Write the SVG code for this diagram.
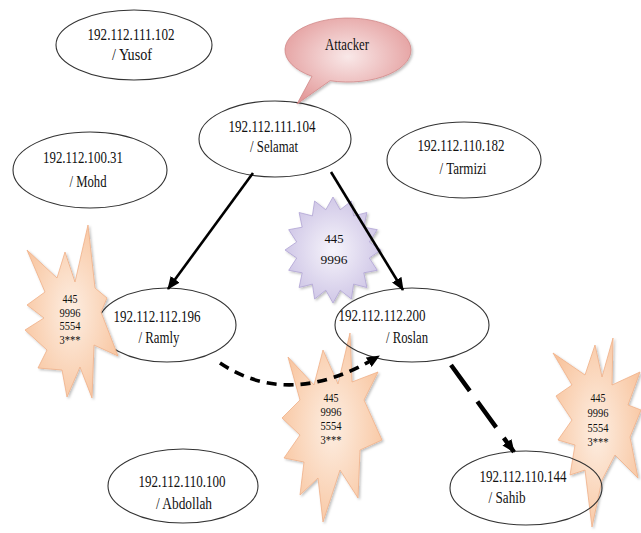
<svg xmlns="http://www.w3.org/2000/svg" width="641" height="533" viewBox="0 0 641 533">
<style>
.node ellipse{fill:none;stroke:#333;stroke-width:1.1}
.t{font-family:"Liberation Serif","DejaVu Serif",serif;font-size:16px;fill:#111;text-anchor:middle}
.b{font-family:"Liberation Serif","DejaVu Serif",serif;font-size:12px;fill:#111;text-anchor:middle}
.orange{fill:url(#og);stroke:#f0b088;stroke-width:0.8;filter:url(#sh)}
.conn{fill:none;stroke:#000}
</style>
<defs>
<radialGradient id="og" cx="50%" cy="50%" r="60%">
<stop offset="0" stop-color="#fdeee2"/>
<stop offset="1" stop-color="#f8c39c"/>
</radialGradient>
<radialGradient id="pg" cx="50%" cy="50%" r="60%">
<stop offset="0" stop-color="#f6f4fb"/>
<stop offset="1" stop-color="#c9bfe3"/>
</radialGradient>
<radialGradient id="rg" cx="50%" cy="45%" r="60%">
<stop offset="0" stop-color="#f9e8e8"/>
<stop offset="1" stop-color="#e39a9a"/>
</radialGradient>
<filter id="sh" x="-20%" y="-20%" width="140%" height="140%">
<feDropShadow dx="1.5" dy="1.5" stdDeviation="1.2" flood-color="#000" flood-opacity="0.25"/>
</filter>
<marker id="ah" markerUnits="userSpaceOnUse" markerWidth="13" markerHeight="11" refX="12" refY="5.5" orient="auto">
<path d="M0,0 L13,5.5 L0,11 z" fill="#000"/>
</marker>
</defs>
<rect width="641" height="533" fill="#fff"/>

<g id="node-yusof" class="node">
<ellipse cx="134" cy="45" rx="78" ry="35"/>
<text class="t" x="131" y="40" textLength="87" lengthAdjust="spacingAndGlyphs">192.112.111.102</text>
<text class="t" x="132" y="60" textLength="40" lengthAdjust="spacingAndGlyphs">/ Yusof</text>
</g>
<g id="node-selamat" class="node">
<ellipse cx="275" cy="139" rx="76" ry="38"/>
<text class="t" x="272" y="132" textLength="87" lengthAdjust="spacingAndGlyphs">192.112.111.104</text>
<text class="t" x="274" y="152" textLength="48" lengthAdjust="spacingAndGlyphs">/ Selamat</text>
</g>
<g id="node-mohd" class="node">
<ellipse cx="90" cy="170" rx="77" ry="38"/>
<text class="t" x="83" y="163" textLength="80" lengthAdjust="spacingAndGlyphs">192.112.100.31</text>
<text class="t" x="88" y="187" textLength="37" lengthAdjust="spacingAndGlyphs">/ Mohd</text>
</g>
<g id="node-tarmizi" class="node">
<ellipse cx="464" cy="160" rx="77" ry="38"/>
<text class="t" x="461" y="151" textLength="87" lengthAdjust="spacingAndGlyphs">192.112.110.182</text>
<text class="t" x="463" y="174" textLength="47" lengthAdjust="spacingAndGlyphs">/ Tarmizi</text>
</g>
<g id="node-ramly" class="node">
<ellipse cx="167" cy="325" rx="69" ry="37"/>
<text class="t" x="157" y="322" textLength="87" lengthAdjust="spacingAndGlyphs">192.112.112.196</text>
<text class="t" x="159" y="343" textLength="41" lengthAdjust="spacingAndGlyphs">/ Ramly</text>
</g>
<g id="node-abdollah" class="node">
<ellipse cx="183" cy="486" rx="75" ry="37"/>
<text class="t" x="182" y="487" textLength="87" lengthAdjust="spacingAndGlyphs">192.112.110.100</text>
<text class="t" x="184" y="509" textLength="56" lengthAdjust="spacingAndGlyphs">/ Abdollah</text>
</g>

<g id="burst-left">
<polygon class="orange" points="88,225 95,288 107,298 101,312 118,356 94,345 92,398 80,367 67,397 62,370 38,368 47,350 25,330 44,318 27,305 45,292 27,250 57,278 65,252 75,282"/>
<text class="b" x="70" y="303" textLength="15" lengthAdjust="spacingAndGlyphs">445</text>
<text class="b" x="70" y="316.5" textLength="21" lengthAdjust="spacingAndGlyphs">9996</text>
<text class="b" x="70" y="330" textLength="21" lengthAdjust="spacingAndGlyphs">5554</text>
<text class="b" x="70" y="343.5" textLength="21" lengthAdjust="spacingAndGlyphs">3***</text>
</g>
<g id="burst-purple">
<polygon fill="url(#pg)" stroke="#b0a3d4" stroke-width="0.8" filter="url(#sh)" points="333,197 340.2,209.8 351.4,201 353.6,215.9 366.9,212.5 363.8,227.2 377.3,229.7 369.3,242 381,250 369.3,258 377.3,270.3 363.8,272.8 366.9,287.5 353.6,284.1 351.4,299 340.2,290.2 333,303 325.8,290.2 314.6,299 312.4,284.1 299.1,287.5 302.2,272.8 288.7,270.3 296.7,258 285,250 296.7,242 288.7,229.7 302.2,227.2 299.1,212.5 312.4,215.9 314.6,201 325.8,209.8"/>
<text class="b" x="334" y="243" font-size="15" textLength="19" lengthAdjust="spacingAndGlyphs">445</text>
<text class="b" x="334" y="264" font-size="15" textLength="27" lengthAdjust="spacingAndGlyphs">9996</text>
</g>
<g id="burst-middle">
<polygon class="orange" points="350,333 352,382 378,372 364,400 382,440 360,450 358,498 340,470 323,522 318,478 300,495 304,462 284,458 300,435 282,418 300,400 288,357 314,385 323,350 338,384"/>
<text class="b" x="331" y="402" textLength="15" lengthAdjust="spacingAndGlyphs">445</text>
<text class="b" x="331" y="416" textLength="21" lengthAdjust="spacingAndGlyphs">9996</text>
<text class="b" x="331" y="430" textLength="21" lengthAdjust="spacingAndGlyphs">5554</text>
<text class="b" x="331" y="444" textLength="21" lengthAdjust="spacingAndGlyphs">3***</text>
</g>
<g id="burst-right">
<polygon class="orange" points="613,338 612,385 640,372 628,405 641,410 630,437 638,478 615,455 602,480 592,527 585,470 570,475 575,445 558,440 572,420 556,396 572,385 553,353 585,375 595,345 602,377"/>
<text class="b" x="598" y="402" textLength="15" lengthAdjust="spacingAndGlyphs">445</text>
<text class="b" x="598" y="417" textLength="21" lengthAdjust="spacingAndGlyphs">9996</text>
<text class="b" x="598" y="432" textLength="21" lengthAdjust="spacingAndGlyphs">5554</text>
<text class="b" x="598" y="446" textLength="21" lengthAdjust="spacingAndGlyphs">3***</text>
</g>

<g id="node-roslan" class="node">
<ellipse cx="412" cy="325" rx="77" ry="37"/>
<text class="t" x="382" y="321" textLength="87" lengthAdjust="spacingAndGlyphs">192.112.112.200</text>
<text class="t" x="407" y="343" textLength="42" lengthAdjust="spacingAndGlyphs">/ Roslan</text>
</g>
<g id="node-sahib" class="node">
<ellipse cx="526" cy="488" rx="76" ry="37"/>
<text class="t" x="523" y="482" textLength="87" lengthAdjust="spacingAndGlyphs">192.112.110.144</text>
<text class="t" x="507" y="503" textLength="37" lengthAdjust="spacingAndGlyphs">/ Sahib</text>
</g>

<g id="connectors">
<line class="conn" x1="253" y1="173" x2="168" y2="289" stroke-width="2.6" marker-end="url(#ah)"/>
<line class="conn" x1="331" y1="172" x2="403" y2="290" stroke-width="2.6" marker-end="url(#ah)"/>
<path class="conn" d="M220,363 Q290,410 379,356" stroke-width="3.6" stroke-dasharray="10 7" marker-end="url(#ah)"/>
<line class="conn" x1="451" y1="365" x2="514" y2="452" stroke-width="4.5" stroke-dasharray="32 13" marker-end="url(#ah)"/>
</g>

<g id="node-attacker">
<path d="M312,76.3 L297,104 L330,80.7 A63,32 0 1 0 312,76.3 Z" fill="url(#rg)" stroke="#d08888" stroke-width="0.8" filter="url(#sh)"/>
<text class="t" x="347" y="50" textLength="44" lengthAdjust="spacingAndGlyphs">Attacker</text>
</g>
</svg>
